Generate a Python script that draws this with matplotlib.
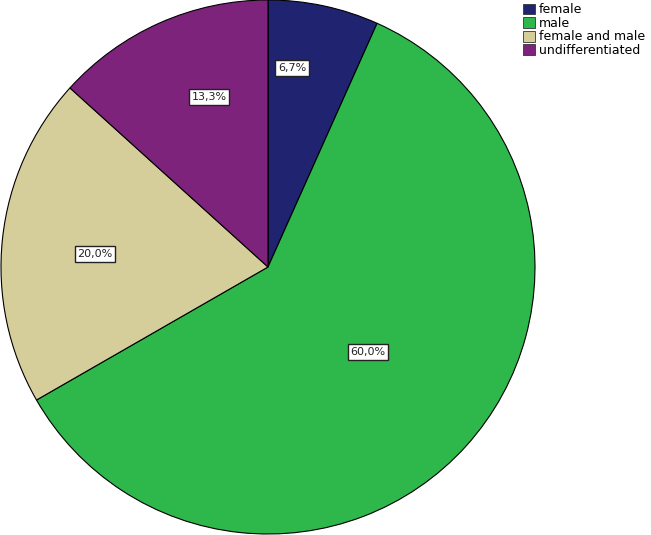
import matplotlib.pyplot as plt
from matplotlib.patches import Patch

categories = ["female", "male", "female and male", "undifferentiated"]
percents = [6.7, 60.0, 20.0, 13.3]
labels = ["6,7%", "60,0%", "20,0%", "13,3%"]
colors = ["#1f2370", "#2eb84b", "#d6ce9a", "#7e237c"]

# label centres in pixel coords of the original picture (layout only)
label_px = [(292, 68), (368, 352), (95, 254), (209, 97)]
CX, CY, R = 268, 267, 267

fig = plt.figure(figsize=(6.51, 5.35), dpi=100)
ax = fig.add_axes([1 / 651, 1 / 535, 534 / 651, 534 / 535])
ax.pie(percents, colors=colors, startangle=90, counterclock=False,
       wedgeprops=dict(edgecolor="black", linewidth=0.8))
ax.set_xlim(-1, 1)
ax.set_ylim(-1, 1)
ax.set_aspect("equal")
ax.axis("off")

for lab, (px, py) in zip(labels, label_px):
    ax.text((px - CX) / R, (CY - py) / R, lab, ha="center", va="center",
            fontsize=8, color="#222222",
            bbox=dict(boxstyle="square,pad=0.25", facecolor="white",
                      edgecolor="#222222", linewidth=1.0))

handles = [Patch(facecolor=c, edgecolor="#333333", linewidth=0.6) for c in colors]
fig.legend(handles, categories, loc="upper left", bbox_to_anchor=(515 / 651, 1.008),
           frameon=False, fontsize=9.0, handlelength=1.0, handleheight=0.95,
           handletextpad=0.3, labelspacing=0.05, borderaxespad=0.2)

plt.savefig("out.png", dpi=100)
